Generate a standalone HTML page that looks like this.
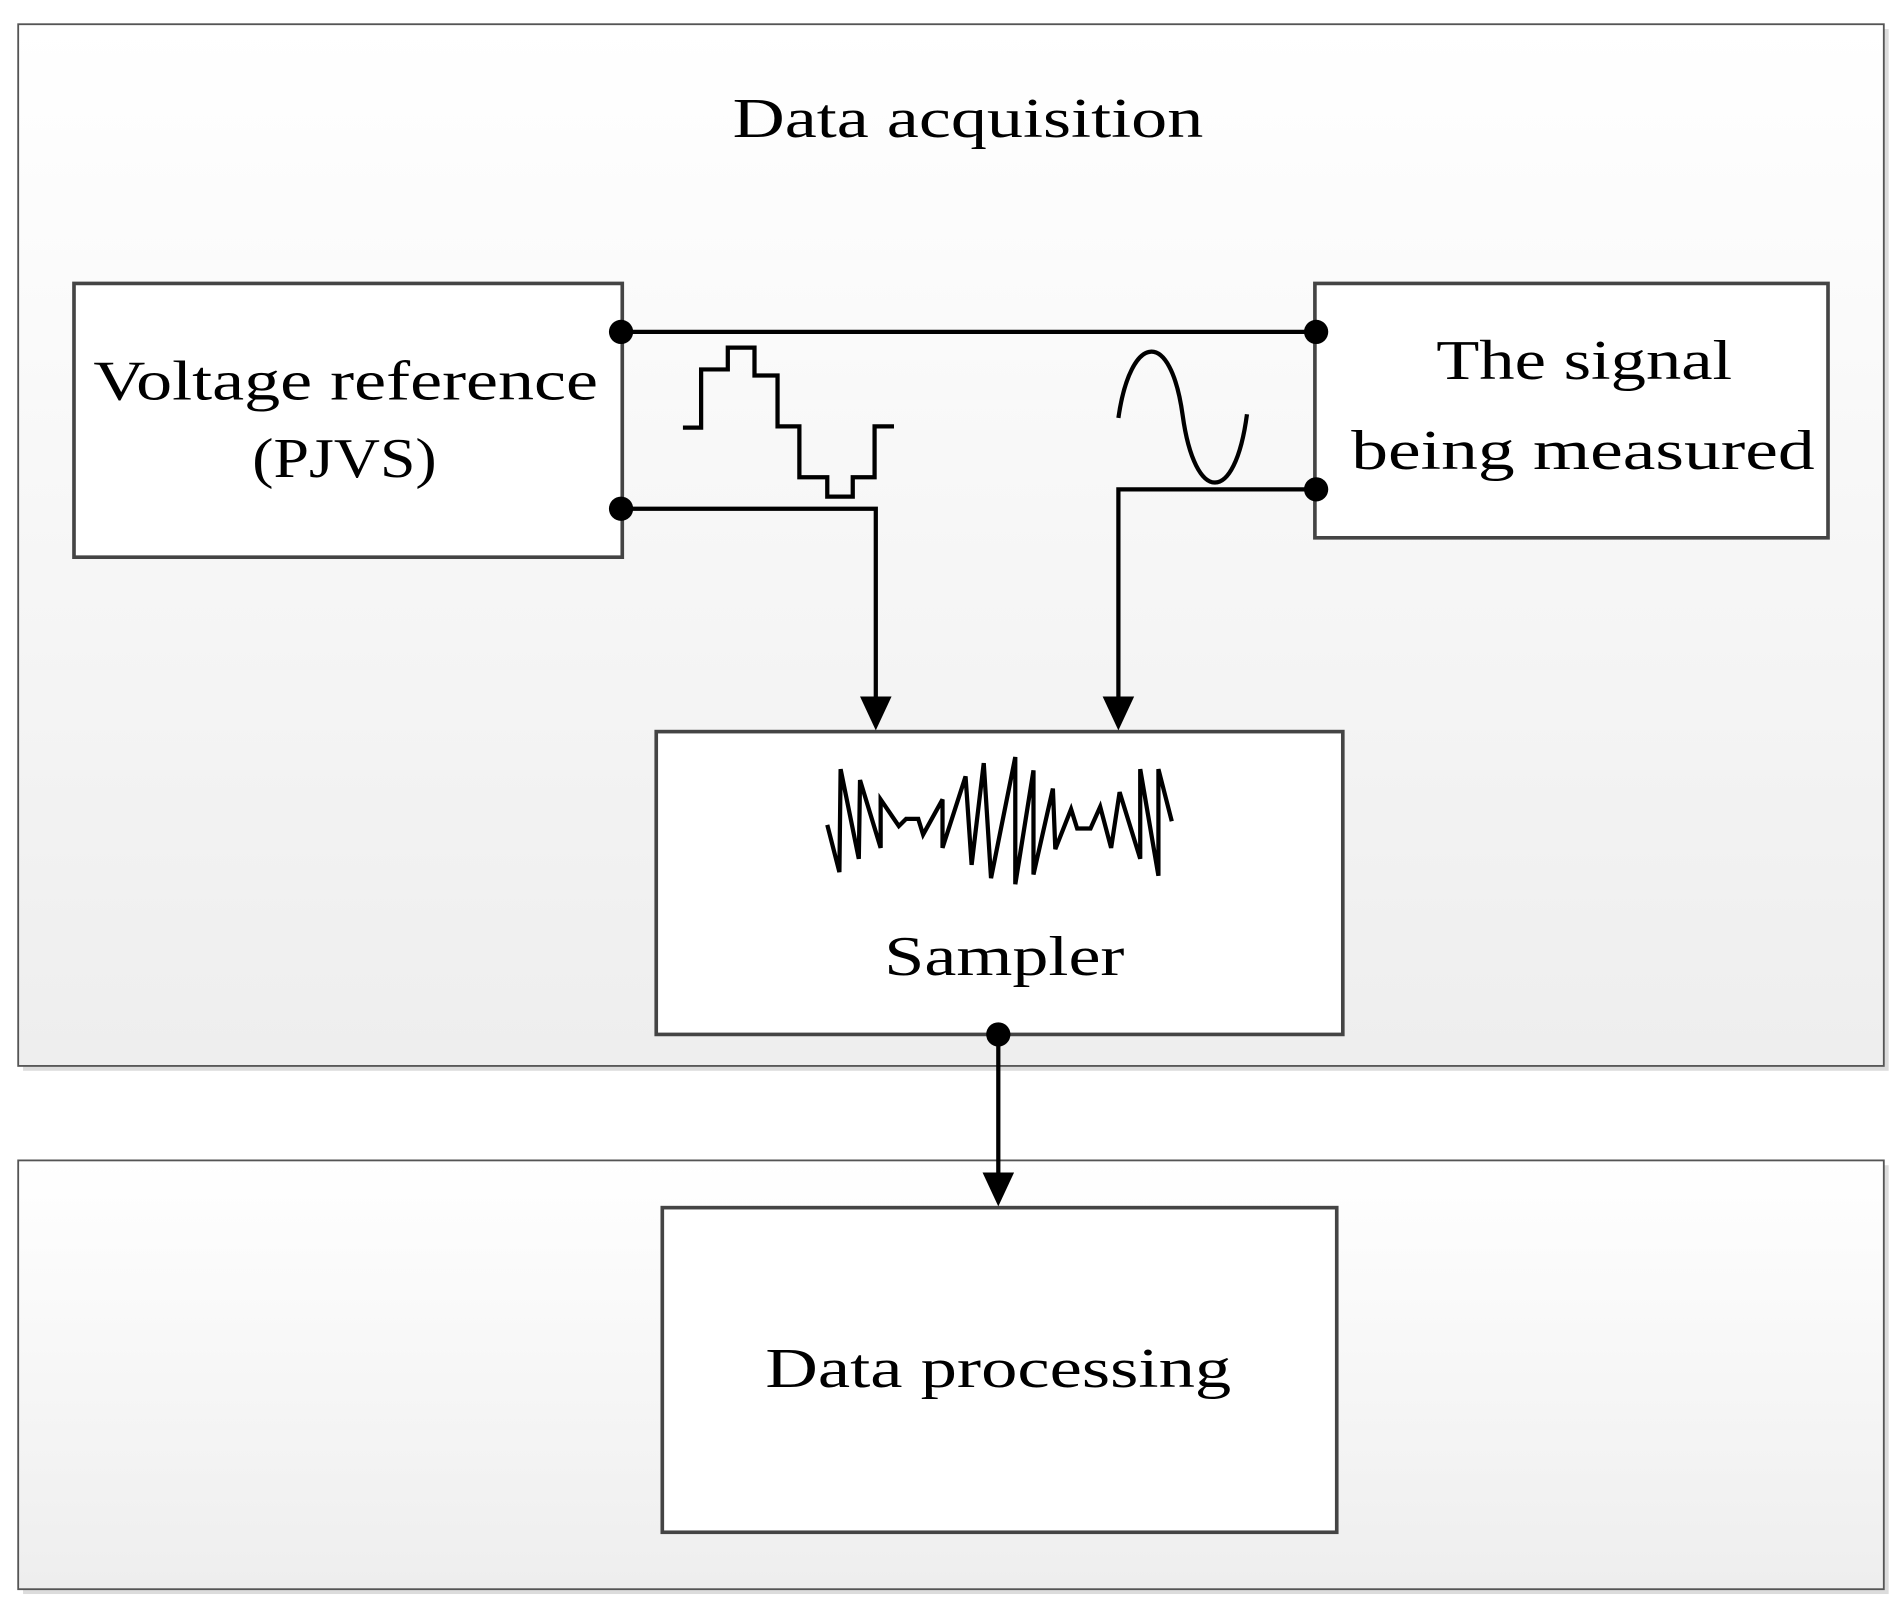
<!DOCTYPE html>
<html><head><meta charset="utf-8"><style>html,body{margin:0;padding:0;background:#fff}svg{display:block}</style></head>
<body>
<svg width="1902" height="1611" viewBox="0 0 1568 1330" preserveAspectRatio="none" xmlns="http://www.w3.org/2000/svg">
<defs>
<linearGradient id="g" x1="0" y1="0" x2="0" y2="1"><stop offset="0" stop-color="#ffffff"/><stop offset="1" stop-color="#eeeeee"/></linearGradient>
</defs>
<rect x="19" y="24" width="1538" height="860" fill="#dcdcdc"/>
<rect x="15" y="20" width="1538" height="860" fill="url(#g)" stroke="#555" stroke-width="1.5"/>
<rect x="19" y="962" width="1538" height="354" fill="#dcdcdc"/>
<rect x="15" y="958" width="1538" height="354" fill="url(#g)" stroke="#555" stroke-width="1.5"/>
<g font-family="'Liberation Serif',serif" font-size="46" fill="#000" text-anchor="middle">
<text x="798" y="113" textLength="388" lengthAdjust="spacingAndGlyphs">Data acquisition</text>
</g>
<g fill="#fff" stroke="#444" stroke-width="3">
<rect x="61" y="234" width="452" height="226"/>
<rect x="1084" y="234" width="423" height="210"/>
<rect x="541" y="604" width="566" height="250"/>
<rect x="546" y="997" width="556" height="268"/>
</g>
<g font-family="'Liberation Serif',serif" font-size="46" fill="#000" text-anchor="middle">
<text x="285" y="330" textLength="416" lengthAdjust="spacingAndGlyphs">Voltage reference</text>
<text x="284" y="394" textLength="152" lengthAdjust="spacingAndGlyphs">(PJVS)</text>
<text x="1306" y="313" textLength="244" lengthAdjust="spacingAndGlyphs">The signal</text>
<text x="1305" y="387" textLength="382" lengthAdjust="spacingAndGlyphs">being measured</text>
<text x="828" y="805" textLength="198" lengthAdjust="spacingAndGlyphs">Sampler</text>
<text x="823" y="1145" textLength="384" lengthAdjust="spacingAndGlyphs">Data processing</text>
</g>
<g fill="none" stroke="#000" stroke-width="3.5">
<line x1="512" y1="274" x2="1085" y2="274"/>
<polyline points="512,420 722,420 722,580"/>
<polyline points="1085,404 922,404 922,580"/>
<polyline points="823,854 823,972"/>
<polyline stroke-linejoin="miter" points="563,353 578,353 578,305 600,305 600,287 622,287 622,310 641,310 641,352 659,352 659,394 682,394 682,410 703,410 703,394 721,394 721,352 737,352"/>
<path d="M922,345 C932,275 965,270 975,343 S1018,418 1028,342"/>
<polyline stroke-linejoin="miter" points="682,681 692,720 693,635 708,709 709,644 726,700 726,660 741,682 747,676 757,676 761,689 777,660 777,700 796,641 801,714 811,630 817,725 837,625 837,730 852,636 852,722 868,651 870,701 883,668 888,684 899,684 907,666 916,700 923,654 940,709 940,635 955,723 955,635 966,678"/>
</g>
<g fill="#000">
<polygon points="709,575 735,575 722,603"/>
<polygon points="909,575 935,575 922,603"/>
<polygon points="810,968 836,968 823,996"/>
<circle cx="512" cy="274" r="10"/>
<circle cx="1085" cy="274" r="10"/>
<circle cx="512" cy="420" r="10"/>
<circle cx="1085" cy="404" r="10"/>
<circle cx="823" cy="854" r="10"/>
</g>
</svg>
</body></html>
